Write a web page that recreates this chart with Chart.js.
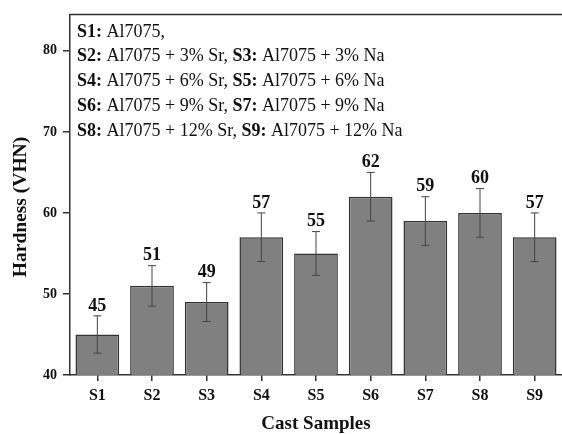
<!DOCTYPE html>
<html>
<head>
<meta charset="utf-8">
<script src="https://cdn.jsdelivr.net/npm/chart.js@4/dist/chart.umd.min.js"></script>
<style>
  html, body { margin: 0; padding: 0; background: #fff; }
  #wrap { width: 562px; height: 434px; }
</style>
</head>
<body>
<div id="wrap"><canvas id="chart" width="562" height="434"></canvas></div>
<script>
// datos
const samples = ['S1', 'S2', 'S3', 'S4', 'S5', 'S6', 'S7', 'S8', 'S9'];
const hardness = [45, 51, 49, 57, 55, 62, 59, 60, 57];
const hardnessErr = [2.3, 2.5, 2.4, 3, 2.7, 3, 3, 3, 3];
const yTicks = [40, 50, 60, 70, 80];

// leyenda de texto: [texto, negrita]
const noteLines = [
  [['S1:', true], [' Al7075,', false]],
  [['S2:', true], [' Al7075 + 3% Sr, ', false], ['S3:', true], [' Al7075 + 3% Na', false]],
  [['S4:', true], [' Al7075 + 6% Sr, ', false], ['S5:', true], [' Al7075 + 6% Na', false]],
  [['S6:', true], [' Al7075 + 9% Sr, ', false], ['S7:', true], [' Al7075 + 9% Na', false]],
  [['S8:', true], [' Al7075 + 12% Sr, ', false], ['S9:', true], [' Al7075 + 12% Na', false]]
];

const serif = '"Liberation Serif", "Times New Roman", serif';
const axisColor = '#333';

// barras de error y etiquetas de valor
const errorBars = {
  id: 'errorBars',
  afterDatasetsDraw(chart) {
    const {ctx, scales: {x, y}} = chart;
    ctx.save();
    ctx.strokeStyle = '#444';
    ctx.lineWidth = 1;
    hardness.forEach((v, i) => {
      const px = x.getPixelForValue(i);
      const top = y.getPixelForValue(v + hardnessErr[i]);
      const bot = y.getPixelForValue(v - hardnessErr[i]);
      ctx.beginPath();
      ctx.moveTo(px, top); ctx.lineTo(px, bot);
      ctx.moveTo(px - 4, top); ctx.lineTo(px + 4, top);
      ctx.moveTo(px - 4, bot); ctx.lineTo(px + 4, bot);
      ctx.stroke();
      ctx.fillStyle = '#111';
      ctx.font = 'bold 18px ' + serif;
      ctx.textAlign = 'center';
      ctx.textBaseline = 'middle';
      ctx.fillText(String(v), px, top - 10);
    });
    ctx.restore();
  }
};

// marco superior, titulo Y y notas
const extras = {
  id: 'extras',
  afterDraw(chart) {
    const {ctx, chartArea} = chart;
    ctx.save();
    ctx.strokeStyle = axisColor;
    ctx.lineWidth = 1.5;
    ctx.beginPath();
    ctx.moveTo(chartArea.left, chartArea.top);
    ctx.lineTo(chartArea.right + 2, chartArea.top);
    ctx.stroke();

    ctx.fillStyle = '#111';
    ctx.translate(21, 207);
    ctx.rotate(-Math.PI / 2);
    ctx.font = 'bold 19.5px ' + serif;
    ctx.textAlign = 'center';
    ctx.textBaseline = 'middle';
    ctx.fillText('Hardness (VHN)', 0, 0);
    ctx.restore();

    ctx.save();
    ctx.fillStyle = '#111';
    ctx.textBaseline = 'middle';
    ctx.textAlign = 'left';
    noteLines.forEach((line, i) => {
      let xx = 77;
      const yy = 32 + i * 24.75;
      line.forEach(([t, b]) => {
        ctx.font = (b ? 'bold ' : '') + '18px ' + serif;
        ctx.fillText(t, xx, yy);
        xx += ctx.measureText(t).width;
      });
    });
    ctx.restore();
  }
};

let ctx = document.getElementById('chart');
let chart = new Chart(ctx, {
  type: 'bar',
  data: {
    labels: samples,
    datasets: [{
      data: hardness,
      backgroundColor: '#808080',
      borderColor: '#333',
      borderWidth: 1.5,
      barPercentage: 0.8,
      categoryPercentage: 1
    }]
  },
  options: {
    responsive: false,
    animation: false,
    layout: { padding: { top: 10, right: -1, left: 0, bottom: 0 } },
    plugins: { legend: { display: false }, tooltip: { enabled: false } },
    scales: {
      x: {
        grid: { drawOnChartArea: false, offset: false, tickLength: 6, color: axisColor, lineWidth: 1.5 },
        border: { color: axisColor, width: 1.5 },
        ticks: { color: '#111', padding: 5, font: { family: serif, size: 16, weight: 'bold' } },
        title: {
          display: true, text: 'Cast Samples', color: '#111',
          padding: { top: 0, bottom: 0 },
          font: { family: serif, size: 19, weight: 'bold', lineHeight: 1 }
        },
        afterFit(s) { s.height = 59; }
      },
      y: {
        min: 40,
        max: 84.5,
        afterBuildTicks(s) { s.ticks = yTicks.map(v => ({ value: v })); },
        grid: { drawOnChartArea: false, tickLength: 7, color: axisColor, lineWidth: 1.5 },
        border: { color: axisColor, width: 1.5 },
        ticks: { color: '#111', padding: 6, font: { family: serif, size: 14, weight: 'bold' } },
        afterFit(s) { s.width = 70; }
      }
    }
  },
  plugins: [errorBars, extras]
});
</script>
</body>
</html>
